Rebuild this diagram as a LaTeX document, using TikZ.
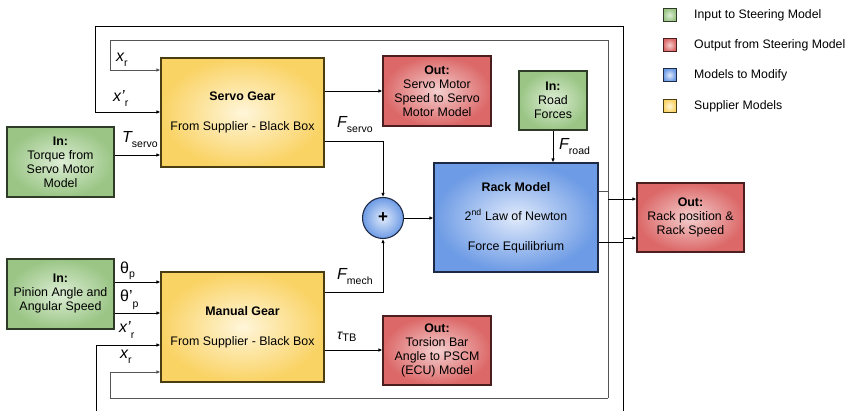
\documentclass[tikz,border=0pt]{standalone}
\usepackage{fontspec}
\setmainfont{Liberation Sans}
\usetikzlibrary{arrows.meta,calc}
\definecolor{gIn}{HTML}{DDEED5}
\definecolor{gOut}{HTML}{9AC585}
\definecolor{gBd}{HTML}{2E3B26}
\definecolor{rIn}{HTML}{F4CFCF}
\definecolor{rOut}{HTML}{DC6868}
\definecolor{rBd}{HTML}{4A1E1E}
\definecolor{bIn}{HTML}{E0EAFB}
\definecolor{bOut}{HTML}{6D9BE5}
\definecolor{bBd}{HTML}{1E2A45}
\definecolor{yIn}{HTML}{FFF6DA}
\definecolor{yOut}{HTML}{FAD365}
\definecolor{yBd}{HTML}{4A3D12}
\definecolor{loopgray}{HTML}{555555}
\newcommand\mylab[3][-5pt]{{\fontsize{16}{16}\selectfont #2}\raisebox{#1}{\fontsize{10.5}{10}\selectfont #3}}
\tikzset{
  box/.style={line width=1.1pt, inner sep=0pt, align=center,
    font=\fontsize{12.4}{14}\selectfont, shading=radial},
  ingreen/.style={box, draw=gBd, inner color=gIn, outer color=gOut},
  outred/.style={box, draw=rBd, inner color=rIn, outer color=rOut},
  modblue/.style={box, draw=bBd, inner color=bIn, outer color=bOut},
  supyellow/.style={box, draw=yBd, inner color=yIn, outer color=yOut},
  wire/.style={line width=0.95pt},
  arr/.style={wire, -{Latex[length=4pt,width=3.5pt]}},
  lbl/.style={anchor=base west, inner sep=0pt},
  legtext/.style={anchor=west, inner sep=0pt, font=\fontsize{12.3}{14}\selectfont},
  legbox/.style={line width=1pt, minimum width=13pt, minimum height=13pt, inner sep=0pt, shading=radial}
}
\begin{document}
\begin{tikzpicture}[x=1pt,y=-1pt]
\useasboundingbox (0,0) rectangle (854,411);

% boxes
\node[supyellow, minimum width=163pt, minimum height=109pt] (servo) at (242.5,112.5)
  {\textbf{Servo Gear}\\[16pt]From Supplier - Black Box};
\node[ingreen, minimum width=107pt, minimum height=70pt] (torque) at (60.5,162)
  {\textbf{In:}\\Torque from\\Servo Motor\\Model};
\node[outred, minimum width=108pt, minimum height=70pt] (outservo) at (437,91)
  {\textbf{Out:}\\Servo Motor\\Speed to Servo\\Motor Model};
\node[ingreen, minimum width=68pt, minimum height=59pt] (road) at (553,100.5)
  {\textbf{In:}\\Road\\Forces};
\node[modblue, minimum width=164pt, minimum height=109pt] (rack) at (516,217.5)
  {\textbf{Rack Model}\\[15pt]2\textsuperscript{nd} Law of Newton\\[16pt]Force Equilibrium};
\node[circle, line width=1.1pt, draw=bBd, shading=radial, inner color=bIn, outer color=bOut,
  minimum size=41pt, inner sep=0pt, font=\fontsize{17}{17}\selectfont\bfseries] (sum) at (383,218) {+};
\node[outred, minimum width=107pt, minimum height=69pt] (outrack) at (690.5,217.5)
  {\textbf{Out:}\\Rack position \&\\Rack Speed};
\node[ingreen, minimum width=107pt, minimum height=70pt] (pinion) at (60.5,294)
  {\textbf{In:}\\Pinion Angle and\\Angular Speed};
\node[supyellow, minimum width=163pt, minimum height=110pt] (manual) at (242.5,327)
  {\textbf{Manual Gear}\\[16pt]From Supplier - Black Box};
\node[outred, minimum width=108pt, minimum height=69pt] (outtors) at (437,350.5)
  {\textbf{Out:}\\Torsion Bar\\Angle to PSCM\\(ECU) Model};

% legend
\node[legbox, draw=gBd, inner color=gIn, outer color=gOut] (lg1) at (669.5,15) {};
\node[legbox, draw=rBd, inner color=rIn, outer color=rOut] (lg2) at (669.5,45) {};
\node[legbox, draw=bBd, inner color=bIn, outer color=bOut] (lg3) at (669.5,75) {};
\node[legbox, draw=yBd, inner color=yIn, outer color=yOut] (lg4) at (669.5,106) {};
\node[legtext] (lt1) at (694,15) {Input to Steering Model};
\node[legtext] (lt2) at (694,45) {Output from Steering Model};
\node[legtext] (lt3) at (694,75) {Models to Modify};
\node[legtext] (lt4) at (694,106) {Supplier Models};

% loop coordinates
\coordinate (kTL) at (95,26);
\coordinate (kTR) at (623,26);
\coordinate (kBR) at (623,411);
\coordinate (kBL) at (96,411);
\coordinate (kSv) at (95,112);
\coordinate (kMn) at (96,345);
\coordinate (kRk) at (623,242);
\coordinate (kOut) at (623,238);
\coordinate (gTL) at (110,40);
\coordinate (gTR) at (608,40);
\coordinate (gBR) at (608,398);
\coordinate (gBL) at (110,398);
\coordinate (gSv) at (110,70);
\coordinate (gMn) at (110,372);
\coordinate (gRk) at (608,191);
\coordinate (gOut) at (608,199);
\coordinate (fS) at (383,141);
\coordinate (fM) at (383,292);

% feedback loops
\draw[arr, loopgray] (gBR) -- (gTR) -- (gTL) -- (gSv) -- (servo.west |- gSv);
\draw[arr, loopgray] (gBR) -- (gBL) -- (gMn) -- (manual.west |- gMn);
\draw[wire, loopgray] (rack.east |- gRk) -- (gRk);
\draw[arr] (gOut) -- (outrack.west |- gOut);
\draw[arr] (kBR) -- (kTR) -- (kTL) -- (kSv) -- (servo.west |- kSv);
\draw[arr] (kBL) -- (kMn) -- (manual.west |- kMn);
\draw[wire] (rack.east |- kRk) -- (kRk);
\draw[arr] (kOut) -- (outrack.west |- kOut);

% signal connectors
\draw[arr] (torque.east |- 0,155) -- (servo.west |- 0,155);
\draw[arr] (servo.east |- 0,91) -- (outservo.west |- 0,91);
\draw[arr] (servo.east |- fS) -- (fS) -- (sum.north);
\draw[arr] (manual.east |- fM) -- (fM) -- (sum.south);
\draw[arr] (sum.east) -- (rack.west |- sum.east);
\draw[arr] (road.south) -- (rack.north -| road.south);
\draw[arr] (pinion.east |- 0,282) -- (manual.west |- 0,282);
\draw[arr] (pinion.east |- 0,313) -- (manual.west |- 0,313);
\draw[arr] (manual.east |- 0,350) -- (outtors.west |- 0,350);

% labels
\node[lbl] (l1) at (116,62) {\mylab{\itshape x}{r}};
\node[lbl] (l2) at (113,102) {\mylab{\itshape x'}{r}};
\node[lbl] (l3) at (122,143) {\mylab{\itshape T}{servo}};
\node[lbl] (l4) at (337,128) {\mylab{\itshape F}{servo}};
\node[lbl] (l5) at (337,280) {\mylab{\itshape F}{mech}};
\node[lbl] (l6) at (559,150) {\mylab{\itshape F}{road}};
\node[lbl] (l7) at (120,274) {\mylab[-4pt]{θ}{p}};
\node[lbl] (l8) at (120,302) {\mylab[-6pt]{θ'}{p}};
\node[lbl] (l9) at (119,333) {\mylab[-6pt]{\itshape x'}{r}};
\node[lbl] (l10) at (120,359) {\mylab{\itshape x}{r}};
\node[lbl] (l11) at (337,340) {{\fontsize{14}{14}\selectfont\itshape τ}\raisebox{-2pt}{\fontsize{11}{11}\selectfont TB}};
\end{tikzpicture}
\end{document}
